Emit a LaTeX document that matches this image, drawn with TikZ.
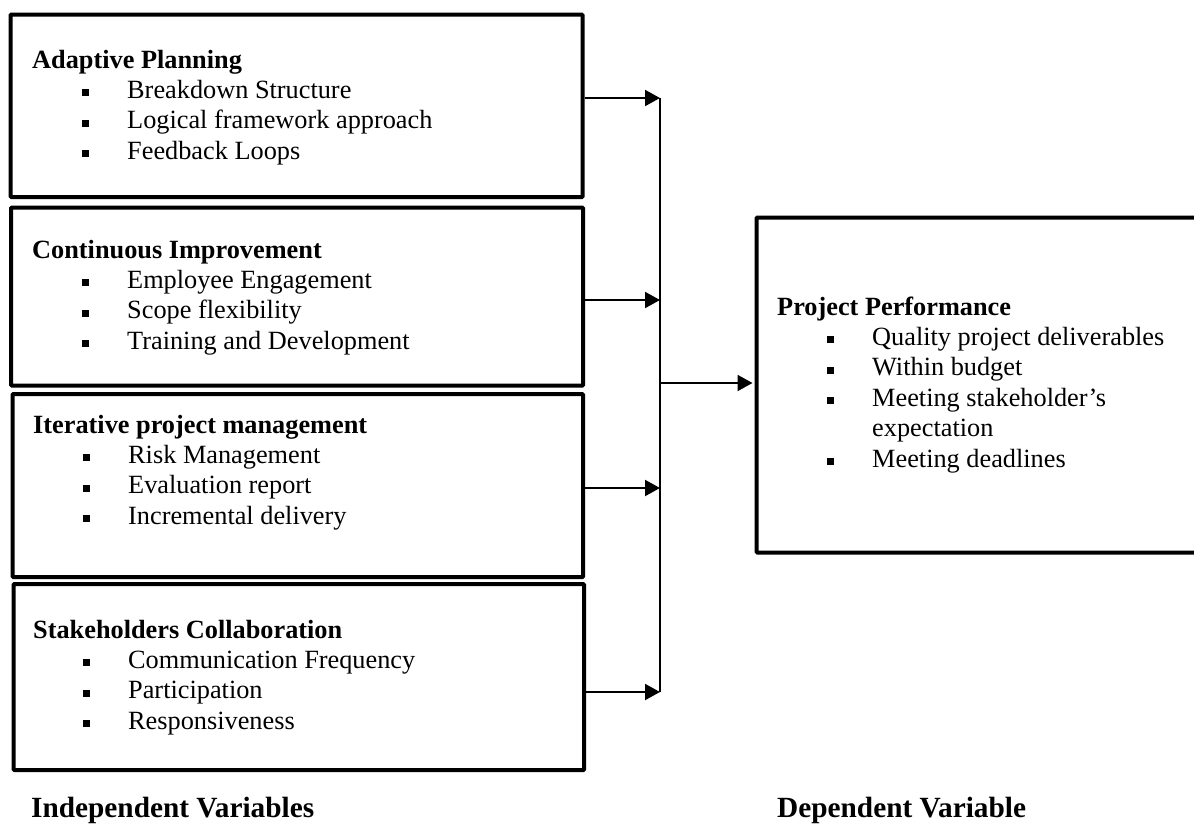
\documentclass[tikz,border=0pt]{standalone}
\usepackage{fontspec}
\setmainfont{Liberation Serif}
\usetikzlibrary{arrows.meta}

% square bullet, bullet item, continuation line, heading
\newcommand\sqbul{\rule[2pt]{7pt}{7pt}}
\newcommand\bitem[1]{\hbox{\kern50pt\sqbul\kern38pt #1}}
\newcommand\bcont[1]{\hbox{\kern95pt #1}}
\newcommand\btitle[1]{\hbox{\bfseries #1}}
% a block of lines whose baseline is that of its first line
\newcommand\blockof[1]{\vtop{\baselineskip=30.4pt\lineskiplimit=-20pt\lineskip=0pt #1}}

\tikzset{
  vbox/.style={draw=black, line width=4.2pt, fill=white, rectangle,
               inner sep=0pt, anchor=north west, rounded corners=1pt},
  txt/.style={inner sep=0pt, anchor=base west, text=black,
              font=\fontsize{26.3}{30.4}\selectfont},
  footlabel/.style={inner sep=0pt, anchor=base west, text=black,
              font=\fontsize{29.3}{34}\selectfont\bfseries},
  arr/.style={line width=2pt, -{Triangle[length=15pt,width=16pt]}},
  bus/.style={line width=2pt}
}

\begin{document}
\begin{tikzpicture}[x=1pt,y=-1pt]
\useasboundingbox (0,0) rectangle (1194,827);

% independent variable boxes
\node[vbox, minimum width=572pt,   minimum height=182.5pt] (b1) at (8.5,12.5) {};
\node[vbox, minimum width=572pt,   minimum height=178pt]   (b2) at (9,205.5) {};
\node[vbox, minimum width=570.5pt, minimum height=183pt]   (b3) at (10.5,392) {};
\node[vbox, minimum width=570.5pt, minimum height=186pt]   (b4) at (11.5,582) {};
% dependent variable box (runs past the right edge)
\node[vbox, minimum width=460pt,   minimum height=335pt]   (R)  at (754.5,215.5) {};

\node[txt] (t1) at (32,68) {\blockof{%
  \btitle{Adaptive Planning}
  \bitem{Breakdown Structure}
  \bitem{Logical framework approach}
  \bitem{Feedback Loops}}};

\node[txt] (t2) at (32,258) {\blockof{%
  \btitle{Continuous Improvement}
  \bitem{Employee Engagement}
  \bitem{Scope flexibility}
  \bitem{Training and Development}}};

\node[txt] (t3) at (33,433) {\blockof{%
  \btitle{Iterative project management}
  \bitem{Risk Management}
  \bitem{Evaluation report}
  \bitem{Incremental delivery}}};

\node[txt] (t4) at (33,638) {\blockof{%
  \btitle{Stakeholders Collaboration}
  \bitem{Communication Frequency}
  \bitem{Participation}
  \bitem{Responsiveness}}};

\node[txt] (t5) at (777,315) {\blockof{%
  \btitle{Project Performance}
  \bitem{Quality project deliverables}
  \bitem{Within budget}
  \bitem{Meeting stakeholder’s}
  \bcont{expectation}
  \bitem{Meeting deadlines}}};

\node[footlabel] (lin) at (31,817)  {Independent Variables};
\node[footlabel] (ldp) at (777,817) {Dependent Variable};

% collecting bus
\coordinate (j1) at (660,98);
\coordinate (j2) at (660,300);
\coordinate (j3) at (660,488);
\coordinate (j4) at (660,692);
\coordinate (jm) at (660,383);

\draw[arr] (b1.east |- j1) -- (j1);
\draw[arr] (b2.east |- j2) -- (j2);
\draw[arr] (b3.east |- j3) -- (j3);
\draw[arr] (b4.east |- j4) -- (j4);
\draw[bus] (j1) -- (j4);
\draw[arr, shorten >=2pt] (jm) -- (R.west |- jm);
\end{tikzpicture}
\end{document}
